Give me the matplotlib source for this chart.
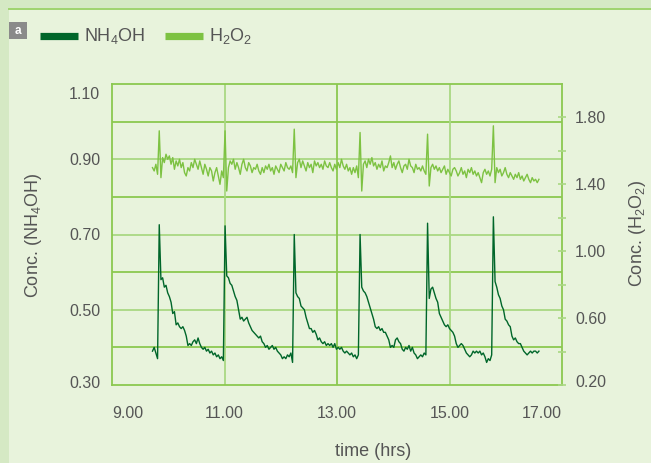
import numpy as np
import matplotlib
matplotlib.use("Agg")
import matplotlib.pyplot as plt
from matplotlib.lines import Line2D
from matplotlib.patches import Rectangle
import matplotlib.transforms as mtransforms

plt.rcParams['font.family'] = ['Liberation Sans', 'DejaVu Sans']
plt.rcParams['mathtext.fontset'] = 'custom'
plt.rcParams['mathtext.rm'] = 'Liberation Sans'
plt.rcParams['mathtext.it'] = 'Liberation Sans'
plt.rcParams['mathtext.default'] = 'regular'

# ---------------- data ----------------
t_start = 9.72
t_step = 0.03

nh4oh = [
    0.39, 0.40, 0.385, 0.37, 0.726, 0.58, 0.585, 0.56, 0.565, 0.545,
    0.535, 0.52, 0.49, 0.495, 0.46, 0.465, 0.455, 0.45, 0.455, 0.445,
    0.43, 0.405, 0.41, 0.405, 0.415, 0.42, 0.41, 0.425, 0.41, 0.40,
    0.395, 0.40, 0.39, 0.395, 0.385, 0.39, 0.38, 0.385, 0.375, 0.38,
    0.37, 0.375, 0.365, 0.723, 0.59, 0.585, 0.57, 0.565, 0.55, 0.535,
    0.525, 0.50, 0.475, 0.48, 0.47, 0.475, 0.48, 0.465, 0.455, 0.445,
    0.44, 0.435, 0.43, 0.425, 0.43, 0.415, 0.41, 0.40, 0.405, 0.395,
    0.40, 0.405, 0.395, 0.40, 0.39, 0.385, 0.38, 0.37, 0.375, 0.37,
    0.38, 0.375, 0.385, 0.36, 0.70, 0.545, 0.535, 0.53, 0.51, 0.505,
    0.50, 0.48, 0.465, 0.45, 0.45, 0.44, 0.445, 0.435, 0.42, 0.425,
    0.415, 0.41, 0.415, 0.405, 0.41, 0.405, 0.41, 0.40, 0.41, 0.395,
    0.40, 0.395, 0.40, 0.39, 0.385, 0.39, 0.385, 0.38, 0.385, 0.375,
    0.38, 0.37, 0.38, 0.70, 0.56, 0.55, 0.545, 0.535, 0.52, 0.505,
    0.49, 0.475, 0.455, 0.45, 0.455, 0.445, 0.45, 0.44, 0.44, 0.43,
    0.42, 0.40, 0.405, 0.40, 0.42, 0.425, 0.415, 0.41, 0.395, 0.39,
    0.40, 0.395, 0.405, 0.39, 0.40, 0.385, 0.38, 0.37, 0.375, 0.38,
    0.375, 0.385, 0.38, 0.73, 0.53, 0.555, 0.56, 0.545, 0.53, 0.52,
    0.49, 0.48, 0.47, 0.46, 0.455, 0.46, 0.45, 0.445, 0.44, 0.43,
    0.41, 0.40, 0.405, 0.41, 0.405, 0.395, 0.385, 0.38, 0.375, 0.38,
    0.39, 0.385, 0.39, 0.385, 0.39, 0.38, 0.385, 0.375, 0.36, 0.37,
    0.365, 0.38, 0.747, 0.575, 0.56, 0.54, 0.53, 0.51, 0.50, 0.475,
    0.47, 0.46, 0.455, 0.43, 0.42, 0.425, 0.415, 0.41, 0.41, 0.40,
    0.39, 0.385, 0.38, 0.385, 0.39, 0.385, 0.39, 0.39, 0.385, 0.39,
]

h2o2 = [
    1.50, 1.48, 1.52, 1.46, 1.72, 1.44, 1.56, 1.53, 1.58, 1.55,
    1.57, 1.52, 1.56, 1.49, 1.54, 1.51, 1.55, 1.50, 1.53, 1.47,
    1.45, 1.50, 1.48, 1.53, 1.50, 1.55, 1.52, 1.49, 1.54, 1.50,
    1.46, 1.52, 1.49, 1.45, 1.50, 1.48, 1.42, 1.47, 1.50, 1.45,
    1.40, 1.48, 1.44, 1.72, 1.36, 1.50, 1.54, 1.52, 1.55, 1.49,
    1.53, 1.50, 1.46, 1.52, 1.55, 1.50, 1.48, 1.53, 1.51, 1.47,
    1.50, 1.49, 1.52, 1.48, 1.46, 1.50, 1.47, 1.51, 1.49, 1.52,
    1.48, 1.50, 1.46, 1.51, 1.49, 1.47, 1.52, 1.50, 1.48, 1.53,
    1.50, 1.49, 1.51, 1.47, 1.73, 1.44, 1.53, 1.55, 1.50, 1.54,
    1.51, 1.48, 1.53, 1.50, 1.52, 1.47, 1.54, 1.51, 1.53, 1.50,
    1.52, 1.49, 1.54, 1.51, 1.50, 1.53, 1.50, 1.48, 1.52, 1.49,
    1.53, 1.50, 1.55, 1.51, 1.49, 1.52, 1.48, 1.50, 1.46, 1.50,
    1.47, 1.51, 1.44, 1.71, 1.36, 1.52, 1.54, 1.50, 1.55, 1.52,
    1.56, 1.51, 1.53, 1.49, 1.52, 1.50, 1.54, 1.48, 1.51, 1.50,
    1.53, 1.57, 1.50, 1.53, 1.49, 1.52, 1.54, 1.50, 1.47, 1.51,
    1.52, 1.49, 1.55, 1.51, 1.50, 1.47, 1.52, 1.49, 1.50, 1.48,
    1.51, 1.48, 1.46, 1.70, 1.39, 1.50, 1.52, 1.49, 1.51, 1.48,
    1.50, 1.47, 1.49, 1.51, 1.46, 1.49, 1.47, 1.45, 1.49, 1.50,
    1.48, 1.45, 1.47, 1.50, 1.46, 1.48, 1.44, 1.49, 1.47, 1.50,
    1.46, 1.48, 1.45, 1.47, 1.44, 1.41, 1.47, 1.49, 1.46, 1.48,
    1.45, 1.49, 1.75, 1.41, 1.50, 1.47, 1.49, 1.45, 1.47, 1.50,
    1.46, 1.44, 1.47, 1.45, 1.43, 1.46, 1.44, 1.47, 1.43, 1.45,
    1.42, 1.44, 1.46, 1.43, 1.41, 1.44, 1.42, 1.43, 1.41, 1.43,
]

time = t_start + t_step * np.arange(len(nh4oh))

x_ticks = [9.0, 11.0, 13.0, 15.0, 17.0]
x_labels = ["9.00", "11.00", "13.00", "15.00", "17.00"]
left_ticks = [0.30, 0.50, 0.70, 0.90, 1.10]
left_labels = ["0.30", "0.50", "0.70", "0.90", "1.10"]
right_ticks = [0.20, 0.60, 1.00, 1.40, 1.80]
right_labels = ["0.20", "0.60", "1.00", "1.40", "1.80"]
right_minor = [0.40, 0.80, 1.20, 1.60]

# ---------------- style ----------------
BG = '#e8f3dc'
STRIP = '#d5e9c4'
GRID = '#8cc850'
GRID_LIGHT = '#a9d883'
DARK = '#00662a'
LIGHT = '#7dc242'
TXT = '#555555'

W, H = 651, 463
fig = plt.figure(figsize=(W / 100, H / 100), dpi=100, facecolor=BG)

# frame decorations
fig.add_artist(Rectangle((0, 0), 9 / W, 1, transform=fig.transFigure,
                         facecolor=STRIP, edgecolor='none'))
fig.add_artist(Rectangle((0, 1 - 8 / H), 1, 8 / H, transform=fig.transFigure,
                         facecolor=STRIP, edgecolor='none'))
fig.add_artist(Line2D([9 / W, 1], [1 - 8.5 / H, 1 - 8.5 / H], transform=fig.transFigure,
                      color='#9fd46e', lw=1.4))

# "a" badge
fig.add_artist(Rectangle((9 / W, 1 - 39 / H), 18 / W, 17 / H, transform=fig.transFigure,
                         facecolor='#8a8a8a', edgecolor='none'))
fig.text(18 / W, 1 - 30.5 / H, 'a', color='white', fontsize=8.5, fontweight='bold',
         ha='center', va='center')

# legend
ly = 1 - 35.5 / H
fig.add_artist(Line2D([40 / W, 78 / W], [ly, ly], transform=fig.transFigure,
                      color=DARK, lw=5.2, solid_capstyle='butt'))
fig.text(84 / W, ly, r'NH$_4$OH', color=TXT, fontsize=13, va='center', ha='left')
fig.add_artist(Line2D([165 / W, 203 / W], [ly, ly], transform=fig.transFigure,
                      color=LIGHT, lw=5.2, solid_capstyle='butt'))
fig.text(209 / W, ly, r'H$_2$O$_2$', color=TXT, fontsize=13, va='center', ha='left')

# axes
ax_l, ax_r, ax_t, ax_b = 112, 562, 84, 385
ax = fig.add_axes([ax_l / W, 1 - ax_b / H, (ax_r - ax_l) / W, (ax_b - ax_t) / H])
ax.set_facecolor(BG)
ax.set_xlim(9.0, 17.0)
ax.set_ylim(0.30, 1.10)

# grid
for i, yv in enumerate(np.arange(0.40, 1.05, 0.10)):
    ax.axhline(yv, color=GRID if i % 2 == 0 else GRID_LIGHT, lw=1.3, zorder=1)
for i, xv in enumerate([11.0, 13.0, 15.0]):
    ax.axvline(xv, color=GRID_LIGHT if i % 2 == 0 else GRID, lw=1.3, zorder=1)
for s in ax.spines.values():
    s.set_color(GRID)
    s.set_linewidth(1.3)

ax2 = ax.twinx()
ax2.set_ylim(0.20, 2.00)
for s in ax2.spines.values():
    s.set_visible(False)

ax.plot(time, nh4oh, color=DARK, lw=1.0, zorder=3)
ax2.plot(time, h2o2, color=LIGHT, lw=1.0, zorder=3)

# ticks
ax.set_xticks(x_ticks)
ax.set_xticklabels(x_labels)
ax.set_yticks(left_ticks)
ax.set_yticklabels(left_labels)
ax.tick_params(axis='x', length=0, pad=15, labelsize=11.5, labelcolor=TXT)
ax.tick_params(axis='y', length=0, pad=8.5, labelsize=11.5, labelcolor=TXT)
xl = ax.get_xticklabels()
xl[0].set_ha('left')
xl[-1].set_ha('right')
yl = ax.get_yticklabels()
yl[-1].set_transform(yl[-1].get_transform() +
                     mtransforms.ScaledTranslation(0, -9 / 100, fig.dpi_scale_trans))
yl[0].set_transform(yl[0].get_transform() +
                    mtransforms.ScaledTranslation(0, 3 / 100, fig.dpi_scale_trans))

ax2.set_yticks(right_ticks)
ax2.set_yticklabels(right_labels)
ax2.set_yticks(right_minor, minor=True)
ax2.tick_params(axis='y', which='both', direction='inout', length=6, width=1.2,
                color=GRID_LIGHT, pad=6.5, labelsize=11.5, labelcolor=TXT)
rl = ax2.get_yticklabels()
rl[0].set_transform(rl[0].get_transform() +
                    mtransforms.ScaledTranslation(0, 4 / 100, fig.dpi_scale_trans))

# axis labels
fig.text(33 / W, 1 - 235 / H, r'Conc. (NH$_4$OH)', rotation=90, color=TXT,
         fontsize=13, ha='center', va='center')
fig.text(637 / W, 1 - 233 / H, r'Conc. (H$_2$O$_2$)', rotation=90, color=TXT,
         fontsize=13, ha='center', va='center')
fig.text(373 / W, 1 - 451 / H, 'time (hrs)', color=TXT, fontsize=13,
         ha='center', va='center')

fig.savefig('out.png', dpi=100, facecolor=BG)
